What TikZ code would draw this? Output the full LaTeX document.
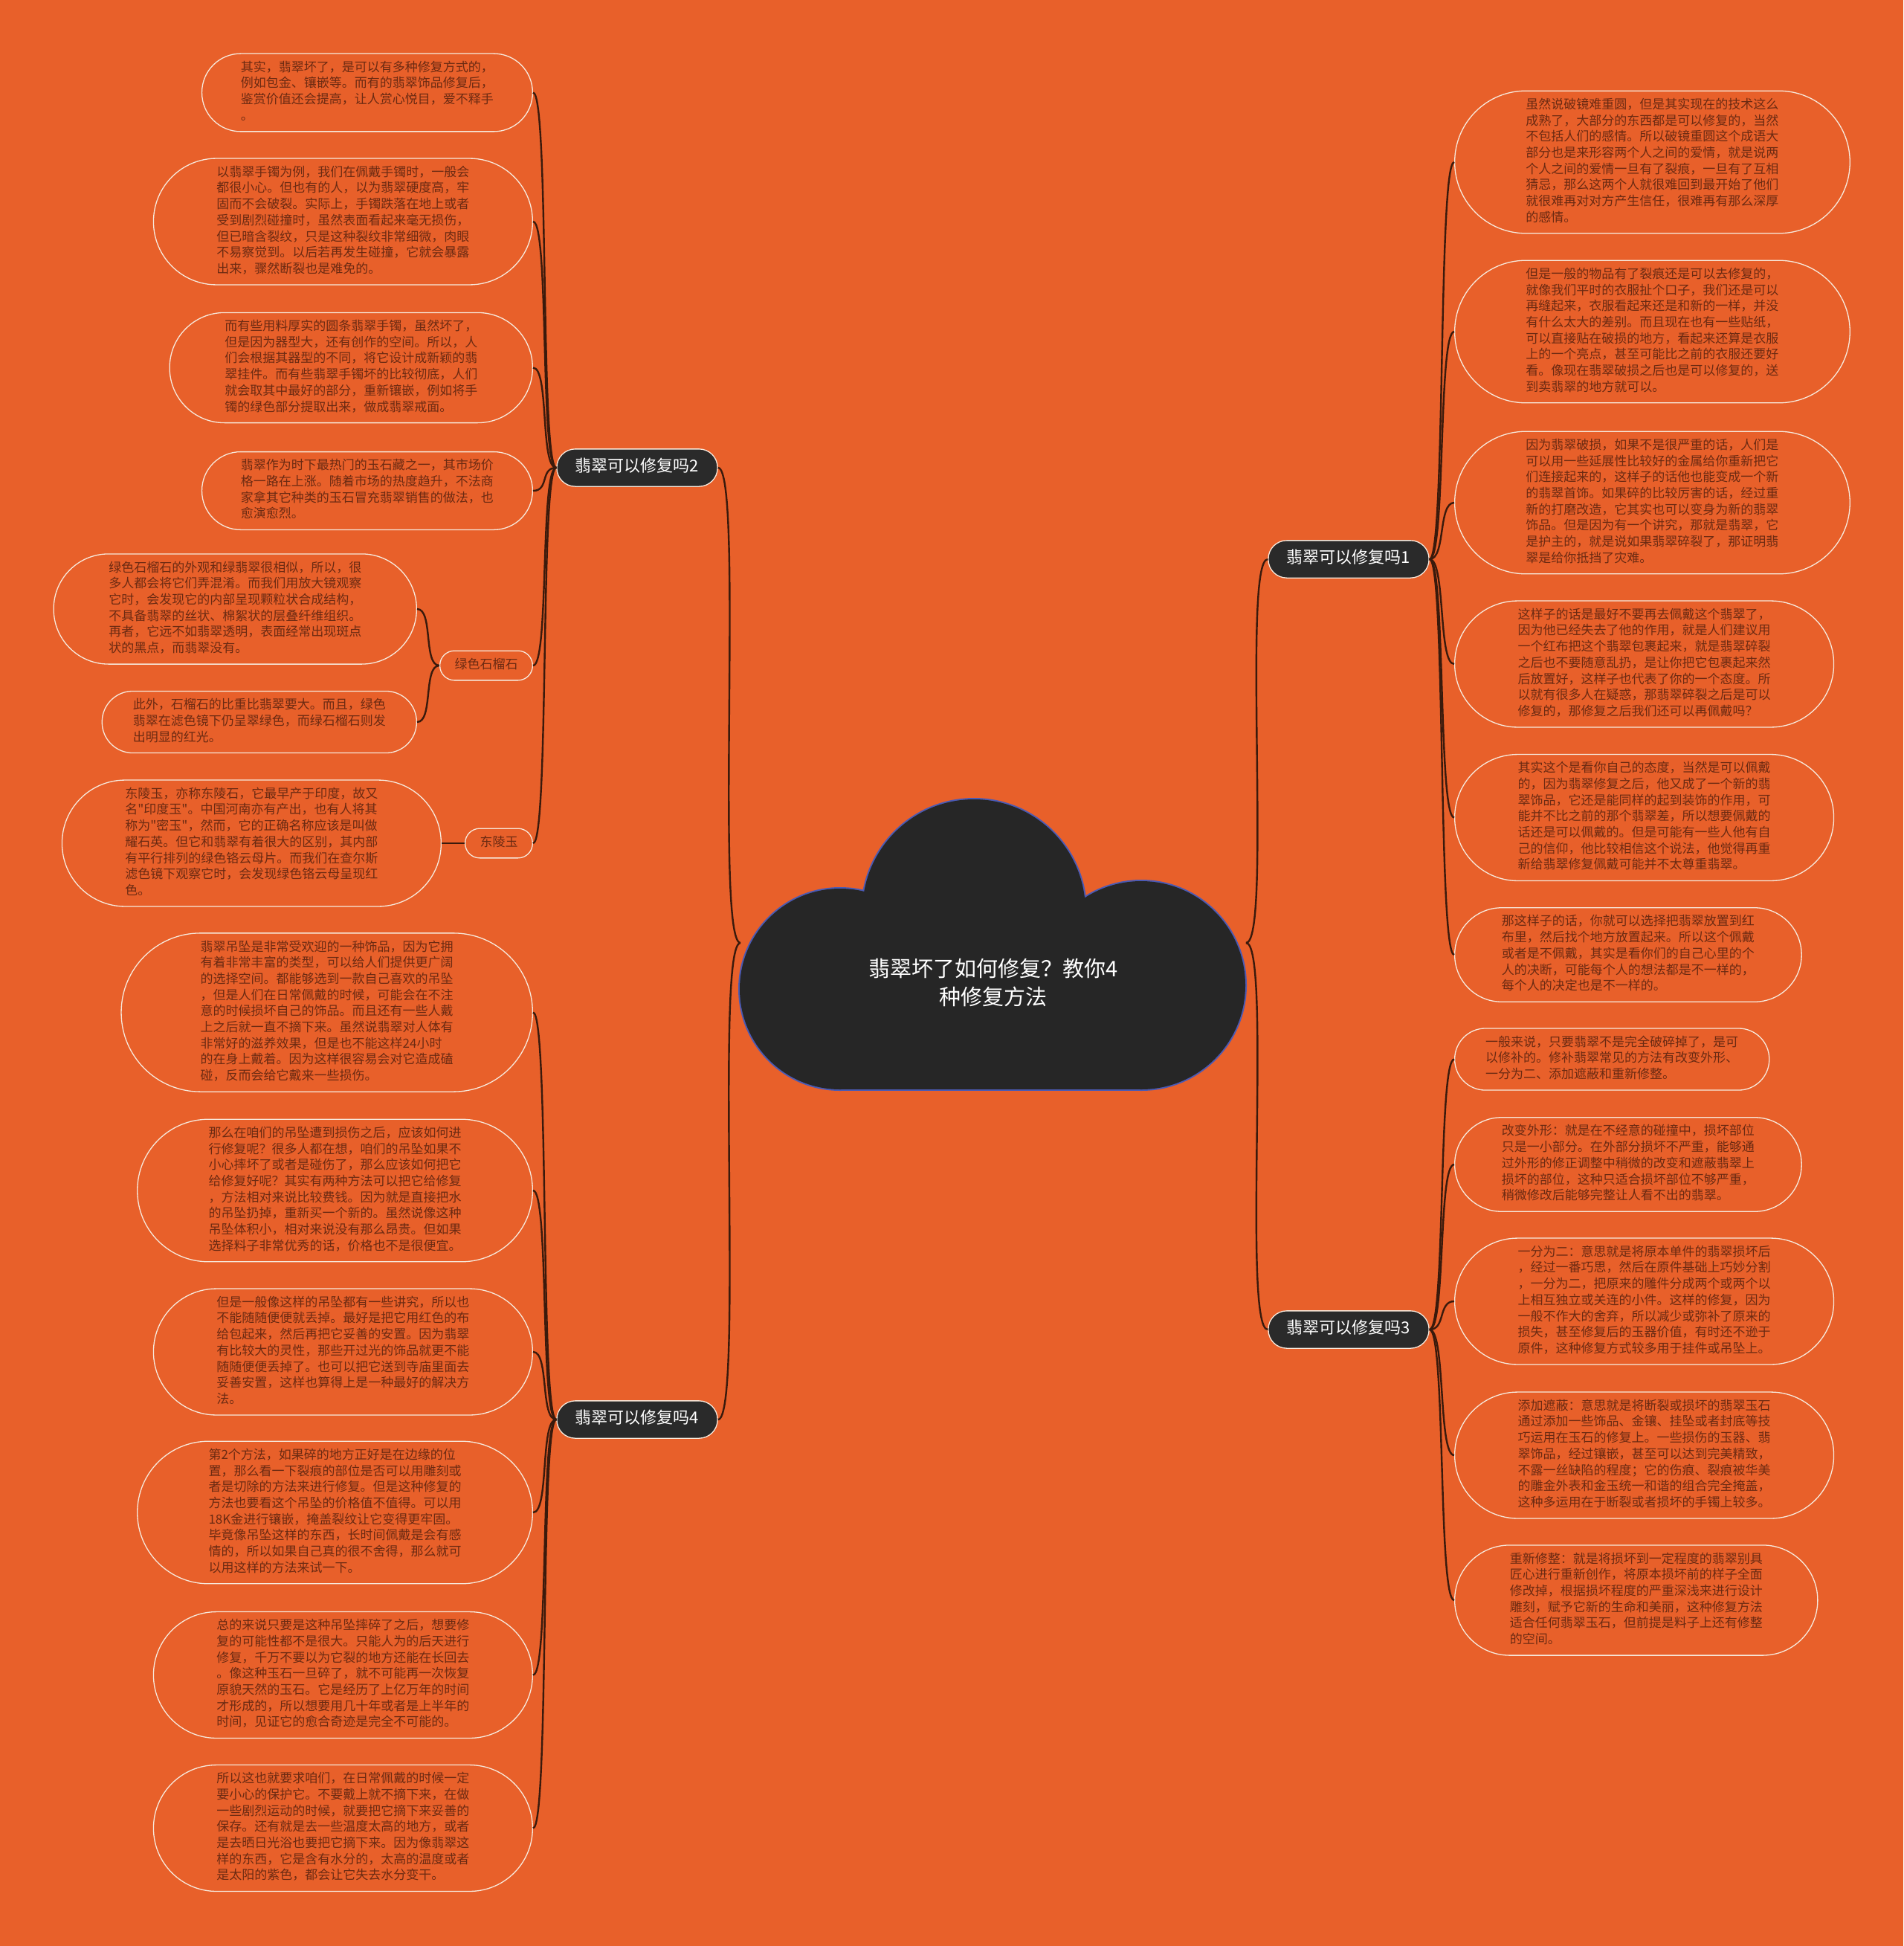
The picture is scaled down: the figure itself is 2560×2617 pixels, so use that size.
\documentclass[tikz,border=0pt]{standalone}
\usepackage{fontspec}
\newfontfamily\cjk{Noto Sans CJK SC}
\definecolor{bgorange}{HTML}{E8602A}
\definecolor{leaftext}{HTML}{6B2A12}
\definecolor{leafline}{HTML}{F7E9DC}
\definecolor{linkc}{HTML}{3A1A0C}
\definecolor{branchfill}{HTML}{2A2A2A}
\definecolor{cloudfill}{HTML}{262626}
\definecolor{cloudline}{HTML}{4B5AB4}

\tikzset{
  leaf/.style={rectangle, draw=leafline, line width=1.3pt,
    rounded corners=(#1*21.7pt+18pt)/2-0.2pt,
    inner xsep=(#1*21.7pt+18pt)/2, inner ysep=9pt,
    text=leaftext, text width=340pt, align=left,
    font=\cjk\fontsize{17}{21.7}\selectfont,
    execute at begin node=\strut, execute at end node=\strut},
  sublabel/.style={rectangle, draw=leafline, line width=1.3pt,
    rounded corners=19.6pt, inner xsep=19.85pt, inner ysep=9pt,
    text=leaftext, font=\cjk\fontsize{17}{21.7}\selectfont,
    execute at begin node=\strut, execute at end node=\strut},
  branch/.style={rectangle, fill=branchfill, draw=leafline, line width=1.3pt,
    rounded corners=24.8pt, inner xsep=25pt, inner ysep=12pt,
    text=white, font=\cjk\fontsize{22}{26}\selectfont,
    execute at begin node=\strut, execute at end node=\strut},
  link/.style={draw=linkc, line width=2.4pt},
}

\begin{document}
\begin{tikzpicture}[x=1pt, y=-1pt]

  % Background
  \fill[bgorange] (0,0) rectangle (2560,2617);
  \useasboundingbox (0,0) rectangle (2560,2617);

  % Cloud (root)
  \foreach \cx/\cy/\r in {1130/1330/135, 1310/1225/150, 1535/1325/140}
    \draw[cloudline, line width=4pt] (\cx,\cy) circle (\r pt);
  \draw[cloudline, line width=4pt] (1130,1300) rectangle (1535,1465);
  \foreach \cx/\cy/\r in {1130/1330/135, 1310/1225/150, 1535/1325/140}
    \fill[cloudfill] (\cx,\cy) circle (\r pt);
  \fill[cloudfill] (1130,1300) rectangle (1535,1465);

  \node[text=white, align=center, font=\cjk\fontsize{29}{38}\selectfont]
    (root) at (1336,1321) {翡翠坏了如何修复？教你4\\种修复方法};
  \coordinate (cloudW) at (996,1268);
  \coordinate (cloudE) at (1676,1268);

  % Branches
  \node[branch] (b1) at (1814,752) {翡翠可以修复吗1};
  \node[branch] (b2) at (857,629) {翡翠可以修复吗2};
  \node[branch] (b3) at (1814,1788) {翡翠可以修复吗3};
  \node[branch] (b4) at (857,1909) {翡翠可以修复吗4};

  % Leaves of branch 2
  \node[leaf=4, anchor=east] (l1) at (717,124.5) {其实，翡翠坏了，是可以有多种修复方式的，\\例如包金、镶嵌等。而有的翡翠饰品修复后，\\鉴赏价值还会提高，让人赏心悦目，爱不释手\\。};
  \node[leaf=7, anchor=east] (l2) at (717,298) {以翡翠手镯为例，我们在佩戴手镯时，一般会\\都很小心。但也有的人，以为翡翠硬度高，牢\\固而不会破裂。实际上，手镯跌落在地上或者\\受到剧烈碰撞时，虽然表面看起来毫无损伤，\\但已暗含裂纹，只是这种裂纹非常细微，肉眼\\不易察觉到。以后若再发生碰撞，它就会暴露\\出来，骤然断裂也是难免的。};
  \node[leaf=6, anchor=east] (l3) at (717,494.5) {而有些用料厚实的圆条翡翠手镯，虽然坏了，\\但是因为器型大，还有创作的空间。所以，人\\们会根据其器型的不同，将它设计成新颖的翡\\翠挂件。而有些翡翠手镯坏的比较彻底，人们\\就会取其中最好的部分，重新镶嵌，例如将手\\镯的绿色部分提取出来，做成翡翠戒面。};
  \node[leaf=4, anchor=east] (l4) at (717,660) {翡翠作为时下最热门的玉石藏之一，其市场价\\格一路在上涨。随着市场的热度趋升，不法商\\家拿其它种类的玉石冒充翡翠销售的做法，也\\愈演愈烈。};
  \node[sublabel, anchor=east] (garnet) at (717,895) {绿色石榴石};
  \node[leaf=6, anchor=east] (g1) at (561,819) {绿色石榴石的外观和绿翡翠很相似，所以，很\\多人都会将它们弄混淆。而我们用放大镜观察\\它时，会发现它的内部呈现颗粒状合成结构，\\不具备翡翠的丝状、棉絮状的层叠纤维组织。\\再者，它远不如翡翠透明，表面经常出现斑点\\状的黑点，而翡翠没有。};
  \node[leaf=3, anchor=east] (g2) at (561,971) {此外，石榴石的比重比翡翠要大。而且，绿色\\翡翠在滤色镜下仍呈翠绿色，而绿石榴石则发\\出明显的红光。};
  \node[sublabel, anchor=east] (aventurine) at (717,1134) {东陵玉};
  \node[leaf=7, anchor=east] (d1) at (594,1134) {东陵玉，亦称东陵石，它最早产于印度，故又\\名"印度玉"。中国河南亦有产出，也有人将其\\称为"密玉"，然而，它的正确名称应该是叫做\\耀石英。但它和翡翠有着很大的区别，其内部\\有平行排列的绿色铬云母片。而我们在查尔斯\\滤色镜下观察它时，会发现绿色铬云母呈现红\\色。};

  % Leaves of branch 4
  \node[leaf=9, anchor=east] (m1) at (717,1361.5) {翡翠吊坠是非常受欢迎的一种饰品，因为它拥\\有着非常丰富的类型，可以给人们提供更广阔\\的选择空间。都能够选到一款自己喜欢的吊坠\\，但是人们在日常佩戴的时候，可能会在不注\\意的时候损坏自己的饰品。而且还有一些人戴\\上之后就一直不摘下来。虽然说翡翠对人体有\\非常好的滋养效果，但是也不能这样24小时\\的在身上戴着。因为这样很容易会对它造成磕\\碰，反而会给它戴来一些损伤。};
  \node[leaf=8, anchor=east] (m2) at (717,1601) {那么在咱们的吊坠遭到损伤之后，应该如何进\\行修复呢？很多人都在想，咱们的吊坠如果不\\小心摔坏了或者是碰伤了，那么应该如何把它\\给修复好呢？其实有两种方法可以把它给修复\\，方法相对来说比较费钱。因为就是直接把水\\的吊坠扔掉，重新买一个新的。虽然说像这种\\吊坠体积小，相对来说没有那么昂贵。但如果\\选择料子非常优秀的话，价格也不是很便宜。};
  \node[leaf=7, anchor=east] (m3) at (717,1818) {但是一般像这样的吊坠都有一些讲究，所以也\\不能随随便便就丢掉。最好是把它用红色的布\\给包起来，然后再把它妥善的安置。因为翡翠\\有比较大的灵性，那些开过光的饰品就更不能\\随随便便丢掉了。也可以把它送到寺庙里面去\\妥善安置，这样也算得上是一种最好的解决方\\法。};
  \node[leaf=8, anchor=east] (m4) at (717,2034) {第2个方法，如果碎的地方正好是在边缘的位\\置，那么看一下裂痕的部位是否可以用雕刻或\\者是切除的方法来进行修复。但是这种修复的\\方法也要看这个吊坠的价格值不值得。可以用\\18K金进行镶嵌，掩盖裂纹让它变得更牢固。\\毕竟像吊坠这样的东西，长时间佩戴是会有感\\情的，所以如果自己真的很不舍得，那么就可\\以用这样的方法来试一下。};
  \node[leaf=7, anchor=east] (m5) at (717,2252.5) {总的来说只要是这种吊坠摔碎了之后，想要修\\复的可能性都不是很大。只能人为的后天进行\\修复，千万不要以为它裂的地方还能在长回去\\。像这种玉石一旦碎了，就不可能再一次恢复\\原貌天然的玉石。它是经历了上亿万年的时间\\才形成的，所以想要用几十年或者是上半年的\\时间，见证它的愈合奇迹是完全不可能的。};
  \node[leaf=7, anchor=east] (m6) at (717,2458.5) {所以这也就要求咱们，在日常佩戴的时候一定\\要小心的保护它。不要戴上就不摘下来，在做\\一些剧烈运动的时候，就要把它摘下来妥善的\\保存。还有就是去一些温度太高的地方，或者\\是去晒日光浴也要把它摘下来。因为像翡翠这\\样的东西，它是含有水分的，太高的温度或者\\是太阳的紫色，都会让它失去水分变干。};

  % Leaves of branch 1
  \node[leaf=8, anchor=west] (r1) at (1956,218) {虽然说破镜难重圆，但是其实现在的技术这么\\成熟了，大部分的东西都是可以修复的，当然\\不包括人们的感情。所以破镜重圆这个成语大\\部分也是来形容两个人之间的爱情，就是说两\\个人之间的爱情一旦有了裂痕，一旦有了互相\\猜忌，那么这两个人就很难回到最开始了他们\\就很难再对对方产生信任，很难再有那么深厚\\的感情。};
  \node[leaf=8, anchor=west] (r2) at (1956,446) {但是一般的物品有了裂痕还是可以去修复的，\\就像我们平时的衣服扯个口子，我们还是可以\\再缝起来，衣服看起来还是和新的一样，并没\\有什么太大的差别。而且现在也有一些贴纸，\\可以直接贴在破损的地方，看起来还算是衣服\\上的一个亮点，甚至可能比之前的衣服还要好\\看。像现在翡翠破损之后也是可以修复的，送\\到卖翡翠的地方就可以。};
  \node[leaf=8, anchor=west] (r3) at (1956,676) {因为翡翠破损，如果不是很严重的话，人们是\\可以用一些延展性比较好的金属给你重新把它\\们连接起来的，这样子的话他也能变成一个新\\的翡翠首饰。如果碎的比较厉害的话，经过重\\新的打磨改造，它其实也可以变身为新的翡翠\\饰品。但是因为有一个讲究，那就是翡翠，它\\是护主的，就是说如果翡翠碎裂了，那证明翡\\翠是给你抵挡了灾难。};
  \node[leaf=7, anchor=west] (r4) at (1956,893) {这样子的话是最好不要再去佩戴这个翡翠了，\\因为他已经失去了他的作用，就是人们建议用\\一个红布把这个翡翠包裹起来，就是翡翠碎裂\\之后也不要随意乱扔，是让你把它包裹起来然\\后放置好，这样子也代表了你的一个态度。所\\以就有很多人在疑惑，那翡翠碎裂之后是可以\\修复的，那修复之后我们还可以再佩戴吗？};
  \node[leaf=7, anchor=west] (r5) at (1956,1099.5) {其实这个是看你自己的态度，当然是可以佩戴\\的，因为翡翠修复之后，他又成了一个新的翡\\翠饰品，它还是能同样的起到装饰的作用，可\\能并不比之前的那个翡翠差，所以想要佩戴的\\话还是可以佩戴的。但是可能有一些人他有自\\己的信仰，他比较相信这个说法，他觉得再重\\新给翡翠修复佩戴可能并不太尊重翡翠。};
  \node[leaf=5, anchor=west] (r6) at (1956,1284) {那这样子的话，你就可以选择把翡翠放置到红\\布里，然后找个地方放置起来。所以这个佩戴\\或者是不佩戴，其实是看你们的自己心里的个\\人的决断，可能每个人的想法都是不一样的，\\每个人的决定也是不一样的。};

  % Leaves of branch 3
  \node[leaf=3, anchor=west] (r7) at (1956,1424.5) {一般来说，只要翡翠不是完全破碎掉了，是可\\以修补的。修补翡翠常见的方法有改变外形、\\一分为二、添加遮蔽和重新修整。};
  \node[leaf=5, anchor=west] (r8) at (1956,1566) {改变外形：就是在不经意的碰撞中，损坏部位\\只是一小部分。在外部分损坏不严重，能够通\\过外形的修正调整中稍微的改变和遮蔽翡翠上\\损坏的部位，这种只适合损坏部位不够严重，\\稍微修改后能够完整让人看不出的翡翠。};
  \node[leaf=7, anchor=west] (r9) at (1956,1750) {一分为二：意思就是将原本单件的翡翠损坏后\\，经过一番巧思，然后在原件基础上巧妙分割\\，一分为二，把原来的雕件分成两个或两个以\\上相互独立或关连的小件。这样的修复，因为\\一般不作大的舍弃，所以减少或弥补了原来的\\损失，甚至修复后的玉器价值，有时还不逊于\\原件，这种修复方式较多用于挂件或吊坠上。};
  \node[leaf=7, anchor=west] (r10) at (1956,1957) {添加遮蔽：意思就是将断裂或损坏的翡翠玉石\\通过添加一些饰品、金镶、挂坠或者封底等技\\巧运用在玉石的修复上。一些损伤的玉器、翡\\翠饰品，经过镶嵌，甚至可以达到完美精致，\\不露一丝缺陷的程度；它的伤痕、裂痕被华美\\的雕金外表和金玉统一和谐的组合完全掩盖，\\这种多运用在于断裂或者损坏的手镯上较多。};
  \node[leaf=6, anchor=west] (r11) at (1956,2152) {重新修整：就是将损坏到一定程度的翡翠别具\\匠心进行重新创作，将原本损坏前的样子全面\\修改掉，根据损坏程度的严重深浅来进行设计\\雕刻，赋予它新的生命和美丽，这种修复方法\\适合任何翡翠玉石，但前提是料子上还有修整\\的空间。};

  % Root -> branches
  \draw[link] (cloudW) .. controls +(-35,0) and +(35,0) .. (b2.east);
  \draw[link] (cloudW) .. controls +(-35,0) and +(35,0) .. (b4.east);
  \draw[link] (cloudE) .. controls +(35,0) and +(-35,0) .. (b1.west);
  \draw[link] (cloudE) .. controls +(35,0) and +(-35,0) .. (b3.west);

  % Branch -> leaves
  \foreach \n in {l1,l2,l3,l4,garnet,aventurine}
    \draw[link] (b2.west) .. controls +(-22,0) and +(22,0) .. (\n.east);
  \foreach \n in {m1,m2,m3,m4,m5,m6}
    \draw[link] (b4.west) .. controls +(-22,0) and +(22,0) .. (\n.east);
  \foreach \n in {r1,r2,r3,r4,r5,r6}
    \draw[link] (b1.east) .. controls +(22,0) and +(-22,0) .. (\n.west);
  \foreach \n in {r7,r8,r9,r10,r11}
    \draw[link] (b3.east) .. controls +(22,0) and +(-22,0) .. (\n.west);
  \foreach \n in {g1,g2}
    \draw[link] (garnet.west) .. controls +(-22,0) and +(22,0) .. (\n.east);
  \draw[link] (aventurine.west) -- (d1.east);

\end{tikzpicture}
\end{document}
